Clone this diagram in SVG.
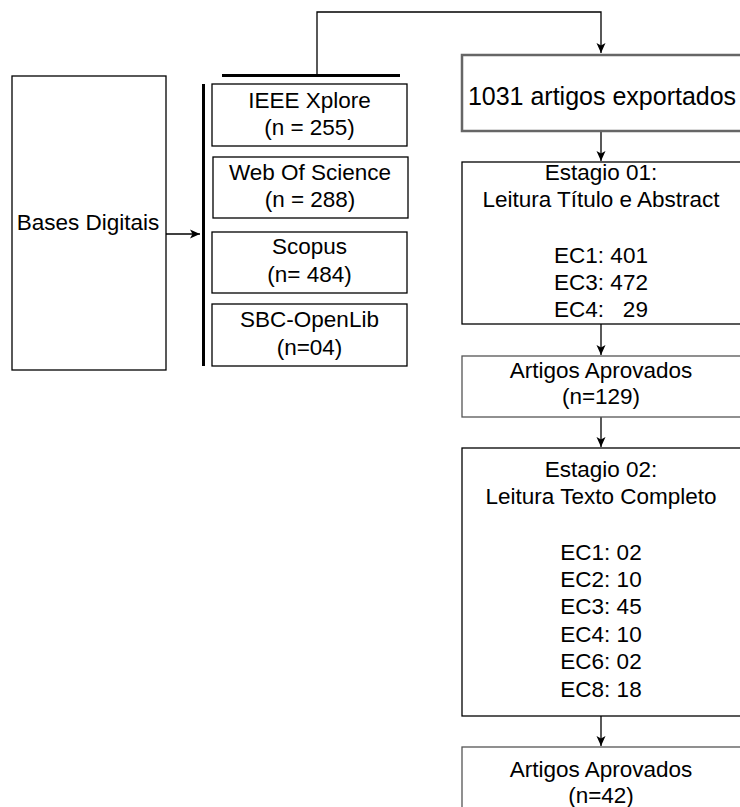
<svg xmlns="http://www.w3.org/2000/svg" width="740" height="807" viewBox="0 0 740 807">
<defs>
<marker id="ah" viewBox="0 0 10 10" refX="10" refY="5" markerWidth="10" markerHeight="10" markerUnits="userSpaceOnUse" orient="auto">
<path d="M0,0.5 L10,5 L0,9.5 L2.5,5 Z" fill="#000"/>
</marker>
</defs>
<style>
.box{fill:#fff;stroke:#000;stroke-width:1.3}
.gbox{fill:#fff;stroke:#555;stroke-width:1.3}
.big{fill:#fff;stroke:#666;stroke-width:2.5}
.t{font-family:"Liberation Sans",Arial,sans-serif;font-size:22.5px;fill:#000;text-anchor:middle}
.conn{fill:none;stroke:#000;stroke-width:1.3}
.bar{stroke:#000;stroke-width:3}
</style>
<rect width="740" height="807" fill="#fff"/>
<g id="connectors">
<path class="conn" d="M166,234 H200" marker-end="url(#ah)"/>
<path class="conn" d="M317,75 V12 H601 V53" marker-end="url(#ah)"/>
<path class="conn" d="M601,132 V161" marker-end="url(#ah)"/>
<path class="conn" d="M601,324 V355" marker-end="url(#ah)"/>
<path class="conn" d="M601,417 V447" marker-end="url(#ah)"/>
<path class="conn" d="M601,716 V746" marker-end="url(#ah)"/>
</g>
<g id="bases">
<rect class="box" x="12" y="76" width="154" height="294"/>
<text class="t" x="88" y="230">Bases Digitais</text>
</g>
<g id="bars">
<line class="bar" x1="203.5" y1="84" x2="203.5" y2="366"/>
<line class="bar" x1="222" y1="75.5" x2="400" y2="75.5"/>
</g>
<g id="ieee">
<rect class="box" x="212" y="84" width="195" height="62"/>
<text class="t" x="309.5" y="108">IEEE Xplore</text>
<text class="t" x="309.5" y="135">(n = 255)</text>
</g>
<g id="wos">
<rect class="box" x="213" y="157" width="195" height="61"/>
<text class="t" x="310" y="180">Web Of Science</text>
<text class="t" x="310" y="207">(n = 288)</text>
</g>
<g id="scopus">
<rect class="box" x="212" y="232" width="195" height="61"/>
<text class="t" x="309.5" y="254">Scopus</text>
<text class="t" x="309.5" y="282">(n= 484)</text>
</g>
<g id="sbc">
<rect class="box" x="212" y="304" width="195" height="62"/>
<text class="t" x="309.5" y="327">SBC-OpenLib</text>
<text class="t" x="309.5" y="355">(n=04)</text>
</g>
<g id="exportados">
<rect class="big" x="462" y="55" width="290" height="76"/>
<text class="t" x="602" y="105" style="font-size:25px">1031 artigos exportados</text>
</g>
<g id="estagio1">
<rect class="box" x="462" y="162" width="290" height="162"/>
<text class="t" x="601" y="180">Estagio 01:</text>
<text class="t" x="601" y="207">Leitura Título e Abstract</text>
<text class="t" x="601" y="263">EC1: 401</text>
<text class="t" x="601" y="290">EC3: 472</text>
<text class="t" x="601" y="317" xml:space="preserve">EC4:   29</text>
</g>
<g id="aprovados1">
<rect class="gbox" x="462" y="356" width="290" height="61"/>
<text class="t" x="601" y="378">Artigos Aprovados</text>
<text class="t" x="601" y="404">(n=129)</text>
</g>
<g id="estagio2">
<rect class="box" x="462" y="448" width="290" height="268"/>
<text class="t" x="601" y="477">Estagio 02:</text>
<text class="t" x="601" y="504">Leitura Texto Completo</text>
<text class="t" x="601" y="560">EC1: 02</text>
<text class="t" x="601" y="587">EC2: 10</text>
<text class="t" x="601" y="614">EC3: 45</text>
<text class="t" x="601" y="642">EC4: 10</text>
<text class="t" x="601" y="669">EC6: 02</text>
<text class="t" x="601" y="697">EC8: 18</text>
</g>
<g id="aprovados2">
<rect class="gbox" x="462" y="747" width="290" height="80"/>
<text class="t" x="601" y="777">Artigos Aprovados</text>
<text class="t" x="601" y="803">(n=42)</text>
</g>
</svg>
